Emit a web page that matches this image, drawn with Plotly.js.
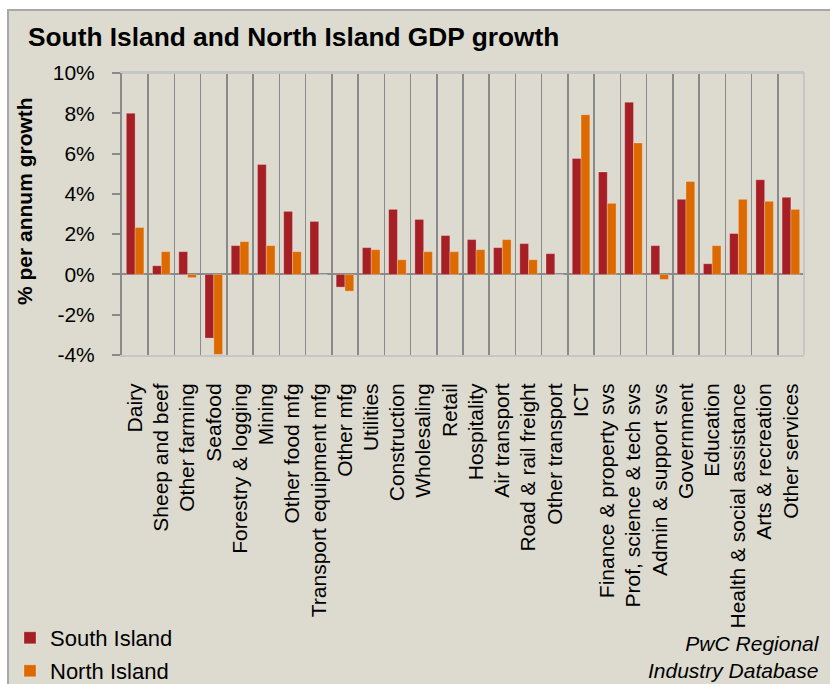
<!DOCTYPE html>
<html>
<head>
<meta charset="utf-8">
<script src="https://cdn.plot.ly/plotly-3.0.1.min.js"></script>
<style>
  html, body { margin: 0; padding: 0; background: #ffffff; width: 830px; height: 684px; overflow: hidden; }
  #frameTop { position: absolute; left: 7px; top: 9px; width: 823px; height: 2px; background: #A8A8A8; }
  #frameLeft { position: absolute; left: 7px; top: 9px; width: 2px; height: 675px; background: #A8A8A8; }
  #chart { position: absolute; left: 9px; top: 11px; width: 821px; height: 673px; }
</style>
</head>
<body>
<div id="frameTop"></div>
<div id="frameLeft"></div>
<div id="chart"></div>
<script>
const categories = [
  "Dairy", "Sheep and beef", "Other farming", "Seafood", "Forestry & logging",
  "Mining", "Other food mfg", "Transport equipment mfg", "Other mfg", "Utilities",
  "Construction", "Wholesaling", "Retail", "Hospitality", "Air transport",
  "Road & rail freight", "Other transport", "ICT", "Finance & property svs",
  "Prof, science & tech svs", "Admin & support svs", "Government", "Education",
  "Health & social assistance", "Arts & recreation", "Other services"
];
const southIsland = [8.0, 0.43, 1.13, -3.16, 1.43, 5.46, 3.13, 2.63, -0.63, 1.33,
  3.23, 2.73, 1.93, 1.73, 1.33, 1.53, 1.03, 5.76, 5.09, 8.55, 1.43, 3.73, 0.53,
  2.03, 4.7, 3.83];
const northIsland = [2.33, 1.13, -0.16, -3.97, 1.63, 1.43, 1.13, 0, -0.83, 1.23,
  0.73, 1.13, 1.13, 1.23, 1.73, 0.73, 0, 7.93, 3.53, 6.53, -0.25, 4.61, 1.43,
  3.73, 3.63, 3.23];
const yTickVals = [-4, -2, 0, 2, 4, 6, 8, 10];
const yTickText = ["-4%", "-2%", "0%", "2%", "4%", "6%", "8%", "10%"];

const FONT = "Liberation Sans, Arial, sans-serif";
const BG = "#DDDBD0";
const W = 821, H = 673;

const traces = [
  {
    type: "bar", name: "South Island", x: categories, y: southIsland,
    marker: { color: "#A51F24", line: { color: "rgba(255,255,255,0.25)", width: 1 } },
    legend: "legend", hoverinfo: "x+y"
  },
  {
    type: "bar", name: "North Island", x: categories, y: northIsland,
    marker: { color: "#DD6A00", line: { color: "rgba(255,255,255,0.25)", width: 1 } },
    legend: "legend2", hoverinfo: "x+y"
  }
];

const layout = {
  width: W, height: H,
  margin: { l: 113, r: 26, t: 62, b: 329, pad: 0, autoexpand: false },
  paper_bgcolor: BG, plot_bgcolor: BG,
  font: { family: FONT, color: "#000000", size: 21 },
  barmode: "group", bargap: 0.33, bargroupgap: 0,
  title: {
    text: "<b>South Island and North Island GDP growth</b>",
    font: { family: FONT, size: 26.3, color: "#000000" },
    xref: "container", x: 19 / W, xanchor: "left",
    yref: "container", y: 1 - 26 / H, yanchor: "middle"
  },
  xaxis: {
    type: "category", tickson: "boundaries",
    showgrid: true, gridcolor: "#8A8A8A", gridwidth: 1.5,
    showline: true, mirror: true, linecolor: "#C6C6C6", linewidth: 2,
    ticks: "", tickangle: -90, ticklabelstandoff: 18,
    tickfont: { family: FONT, size: 21, color: "#000000" },
    zeroline: false, fixedrange: true, automargin: false
  },
  yaxis: {
    range: [-4, 10], tickvals: yTickVals, ticktext: yTickText,
    showgrid: false, zeroline: true, zerolinecolor: "#8A8A8A", zerolinewidth: 2,
    showline: true, linecolor: "#8A8A8A", linewidth: 2,
    ticks: "outside", ticklen: 8, tickwidth: 2, tickcolor: "#8A8A8A",
    ticklabelstandoff: 13,
    tickfont: { family: FONT, size: 21, color: "#000000" },
    fixedrange: true, automargin: false
  },
  shapes: [
    {
      type: "path", xref: "paper", yref: "paper", layer: "above",
      path: "M 0,1 L 1,1 L 1,0",
      line: { color: "#C6C6C6", width: 2 }
    }
  ],
  showlegend: true,
  legend: {
    xref: "container", yref: "container",
    x: 1 / W, xanchor: "left", y: 1 - 627 / H, yanchor: "middle",
    bgcolor: "rgba(0,0,0,0)", font: { family: FONT, size: 22, color: "#000000" }
  },
  legend2: {
    xref: "container", yref: "container",
    x: 1 / W, xanchor: "left", y: 1 - 660 / H, yanchor: "middle",
    bgcolor: "rgba(0,0,0,0)", font: { family: FONT, size: 22, color: "#000000" }
  },
  annotations: [
    {
      text: "<b>% per annum growth</b>", textangle: -90,
      xref: "paper", yref: "paper",
      x: (15 - 113) / 682, y: (344 - 190) / 282,
      xanchor: "center", yanchor: "middle", showarrow: false,
      font: { family: FONT, size: 21, color: "#000000" }
    },
    {
      text: "<i>PwC Regional</i><br><i>Industry Database</i>",
      xref: "paper", yref: "paper",
      x: (813 - 113) / 682, y: (344 - 619) / 282,
      xanchor: "right", yanchor: "top", align: "right", showarrow: false,
      font: { family: FONT, size: 21, color: "#000000" }
    }
  ]
};

Plotly.newPlot("chart", traces, layout, { displayModeBar: false, staticPlot: true });
</script>
</body>
</html>
